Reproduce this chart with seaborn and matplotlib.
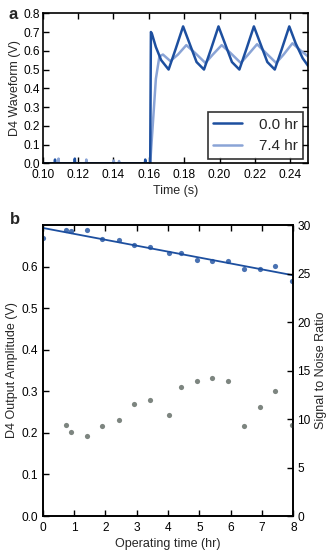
import matplotlib
matplotlib.use('Agg')
import matplotlib.pyplot as plt
import numpy as np
import pandas as pd
import seaborn as sns

# Panel a: waveform vertices
wave_t_0hr = [0.100, 0.1068, 0.1070, 0.1072, 0.1180, 0.1182, 0.1184, 0.1578, 0.1580, 0.1582,
              0.1608, 0.1612, 0.1618, 0.1640, 0.1670, 0.1712, 0.1752, 0.1794, 0.1830, 0.1870,
              0.1912, 0.1952, 0.1994, 0.2030, 0.2070, 0.2112, 0.2152, 0.2194, 0.2230, 0.2270,
              0.2312, 0.2352, 0.2394, 0.2430, 0.2470, 0.2500]
wave_v_0hr = [0.0, 0.0, 0.02, 0.0, 0.0, 0.025, 0.0, 0.0, 0.02, 0.0,
              0.0, 0.70, 0.69, 0.62, 0.55, 0.50, 0.61, 0.73, 0.64, 0.54,
              0.50, 0.61, 0.73, 0.64, 0.54, 0.50, 0.61, 0.73, 0.64, 0.54,
              0.50, 0.61, 0.73, 0.64, 0.56, 0.52]

wave_t_74hr = [0.100, 0.1088, 0.1090, 0.1092, 0.1245, 0.1247, 0.1249, 0.1400, 0.1402, 0.1404,
               0.1430, 0.1432, 0.1434, 0.1608, 0.1640, 0.1660, 0.1680, 0.1722, 0.1765, 0.1812,
               0.1860, 0.1920, 0.1962, 0.2012, 0.2060, 0.2120, 0.2162, 0.2212, 0.2260, 0.2320,
               0.2362, 0.2412, 0.2460, 0.2500]
wave_v_74hr = [0.0, 0.0, 0.025, 0.0, 0.0, 0.02, 0.0, 0.0, 0.015, 0.0,
               0.0, 0.012, 0.0, 0.0, 0.45, 0.57, 0.58, 0.545, 0.58, 0.63,
               0.59, 0.535, 0.58, 0.63, 0.59, 0.535, 0.58, 0.635, 0.59, 0.535,
               0.58, 0.64, 0.60, 0.57]

# Panel b: amplitude and SNR vs operating time
op_time = [0.0, 0.75, 0.90, 1.42, 1.91, 2.45, 2.91, 3.42, 4.04, 4.42,
           4.92, 5.41, 5.91, 6.43, 6.92, 7.41, 7.95]
amplitude = [0.668, 0.687, 0.685, 0.688, 0.666, 0.665, 0.651, 0.648, 0.632, 0.632,
             0.617, 0.614, 0.614, 0.595, 0.595, 0.601, 0.566]
snr_time = op_time[1:]
snr = [9.35, 8.7, 8.2, 9.3, 9.85, 11.5, 11.95, 10.45, 13.25,
       13.9, 14.25, 13.9, 9.3, 11.25, 12.9, 9.35]

dark = '#1d4f9f'
light = '#8aa4d6'
grey = '#7d8580'

sns.set_theme(style='ticks')
plt.rcParams['font.family'] = ['Liberation Sans', 'DejaVu Sans']
plt.rcParams['xtick.direction'] = 'in'
plt.rcParams['ytick.direction'] = 'in'
plt.rcParams['axes.edgecolor'] = 'black'
plt.rcParams['axes.linewidth'] = 1.2
plt.rcParams['xtick.color'] = 'black'
plt.rcParams['ytick.color'] = 'black'
plt.rcParams['xtick.labelsize'] = 8.6
plt.rcParams['ytick.labelsize'] = 8.6
plt.rcParams['axes.labelsize'] = 9

fig = plt.figure(figsize=(3.33, 5.53), dpi=100)

# ---- panel a ----
ax1 = fig.add_axes([0.128, 0.7047, 0.797, 0.2713])
df74 = pd.DataFrame({'t': wave_t_74hr, 'v': wave_v_74hr})
df0 = pd.DataFrame({'t': wave_t_0hr, 'v': wave_v_0hr})
sns.lineplot(data=df74, x='t', y='v', ax=ax1, color=light, lw=1.8, sort=False,
             estimator=None, label='7.4 hr')
sns.lineplot(data=df0, x='t', y='v', ax=ax1, color=dark, lw=1.8, sort=False,
             estimator=None, label='0.0 hr')
ax1.set_xlim(0.10, 0.25)
ax1.set_ylim(0.0, 0.8)
ax1.set_xticks(np.arange(0.10, 0.241, 0.02))
ax1.set_yticks(np.arange(0.0, 0.81, 0.1))
ax1.tick_params(axis='x', top=True, length=4, width=1, pad=4)
ax1.tick_params(axis='y', right=True, length=4, width=1, pad=2)
ax1.set_xlabel('Time (s)', labelpad=3)
ax1.set_ylabel('D4 Waveform (V)', labelpad=2)
h, l = ax1.get_legend_handles_labels()
leg = ax1.legend(h[::-1], l[::-1], loc='lower right', fontsize=11, frameon=True,
                 fancybox=False, edgecolor='black', handlelength=1.9,
                 borderaxespad=0.3, handletextpad=1.1, borderpad=0.35)
leg.get_frame().set_linewidth(1.2)
fig.text(0.025, 0.973, 'a', fontsize=12, fontweight='bold', va='center')

# ---- panel b ----
ax2 = fig.add_axes([0.128, 0.0669, 0.753, 0.5262])
dfa = pd.DataFrame({'time': op_time, 'amp': amplitude})
sns.regplot(data=dfa, x='time', y='amp', ax=ax2, ci=None, truncate=False,
            scatter_kws={'s': 14, 'color': dark, 'linewidths': 0},
            line_kws={'color': dark, 'lw': 1.3})
ax2.set_xlim(0, 8)
ax2.set_ylim(0.0, 0.7)
ax2.set_xticks(range(0, 9))
ax2.set_yticks(np.arange(0.0, 0.61, 0.1))
ax2.tick_params(axis='x', top=True, length=4, width=1, pad=4)
ax2.tick_params(axis='y', length=4, width=1, pad=3)
ax2.set_xlabel('Operating time (hr)', labelpad=3)
ax2.set_ylabel('D4 Output Amplitude (V)', labelpad=3)

ax3 = ax2.twinx()
dfs = pd.DataFrame({'time': snr_time, 'snr': snr})
sns.scatterplot(data=dfs, x='time', y='snr', ax=ax3, color=grey, s=14, linewidth=0)
ax3.set_ylim(0, 30)
ax3.set_yticks(range(0, 31, 5))
ax3.tick_params(length=4, width=1, pad=3)
ax3.set_ylabel('Signal to Noise Ratio', labelpad=3)
ax3.set_xlim(0, 8)
fig.text(0.03, 0.603, 'b', fontsize=12, fontweight='bold', va='center')

fig.savefig('out.png', dpi=100)
